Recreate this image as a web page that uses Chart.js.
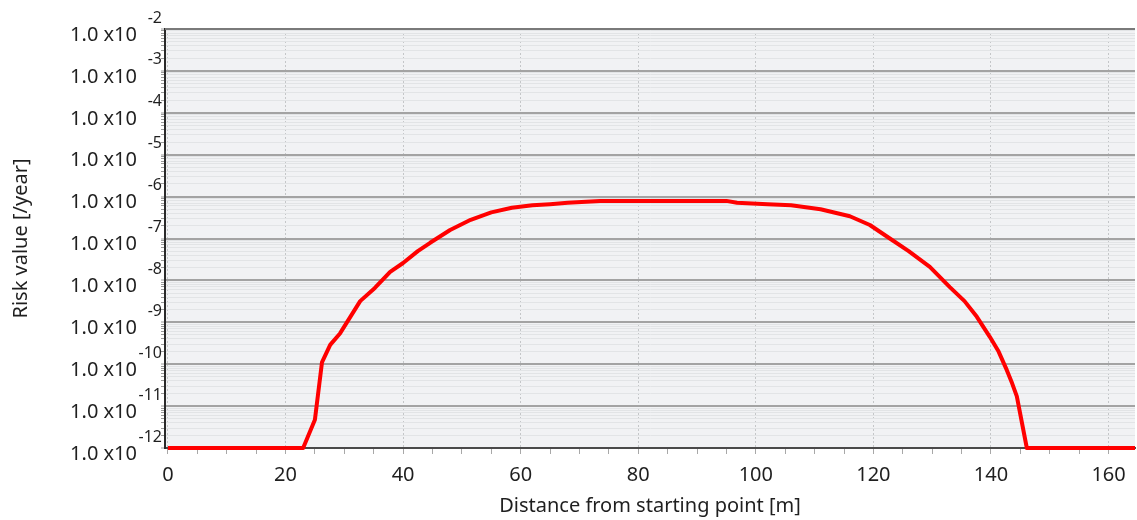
<!DOCTYPE html>
<html>
<head>
<meta charset="utf-8">
<script src="https://cdn.jsdelivr.net/npm/chart.js@4/dist/chart.umd.min.js"></script>
<style>
  html, body { margin: 0; padding: 0; background: #ffffff; }
  #wrap { width: 1137px; height: 520px; }
</style>
</head>
<body>
<div id="wrap"><canvas id="RiskChart" width="1137" height="520"></canvas></div>
<script>
(function () {
  "use strict";

  // Data
  const distances = [0, 23, 25, 26.2, 27.6, 29.3, 32.7, 35.2, 37.8, 40, 42.5, 44.6, 48, 51.5, 55, 58.5,
                     62, 65, 68, 73.5, 80, 85, 90, 95, 96.8, 102, 106, 111, 116, 119.4, 122.8, 126,
                     129.6, 133, 135.5, 137.6, 139.8, 141.3, 142.7, 143.6, 144.4, 146.1, 164.5];
  const riskValues = [1e-12, 1e-12, 4.7e-12, 1.1e-10, 2.9e-10, 5.5e-10, 3.2e-9, 6.6e-9, 1.6e-8, 2.6e-8, 5.0e-8, 7.9e-8, 1.6e-7, 2.8e-7, 4.2e-7, 5.4e-7,
                      6.2e-7, 6.6e-7, 7.1e-7, 7.9e-7, 7.9e-7, 7.9e-7, 7.9e-7, 7.9e-7, 7.1e-7, 6.6e-7, 6.2e-7, 5.0e-7, 3.4e-7, 2.1e-7, 1.0e-7, 5.0e-8,
                      2.1e-8, 6.9e-9, 3.2e-9, 1.35e-9, 4.5e-10, 2.0e-10, 7.2e-11, 3.5e-11, 1.7e-11, 1e-12, 1e-12];

  // Axis ticks
  const xLabels = [0, 20, 40, 60, 80, 100, 120, 140, 160];
  const xMinorStep = 5;
  const yExponents = [-12, -11, -10, -9, -8, -7, -6, -5, -4, -3, -2];
  const yMinorFactors = [2, 3, 4, 5, 6, 7, 8, 9];

  const text_dark = '#1f1f1f';
  const line_red = '#ff0000';
  const fontFamily = '"Noto Sans", "Open Sans", sans-serif';

  const points = distances.map(function (d, i) { return { x: d, y: riskValues[i] }; });

  function isMajor(v) {
    const e = Math.log10(v);
    return Math.abs(e - Math.round(e)) < 1e-6;
  }

  // plot background + top border + y labels like "1.0 x10^-n"
  const decorate = {
    id: 'decorate',
    beforeDraw: function (chart) {
      const a = chart.chartArea;
      const ctx = chart.ctx;
      ctx.save();
      ctx.fillStyle = '#f1f2f4';
      ctx.fillRect(a.left, a.top, a.right - a.left, a.bottom - a.top);
      ctx.restore();
    },
    afterDraw: function (chart) {
      const a = chart.chartArea;
      const ctx = chart.ctx;
      const yScale = chart.scales.y;
      ctx.save();
      ctx.strokeStyle = '#7a7a7a';
      ctx.lineWidth = 2;
      ctx.beginPath();
      ctx.moveTo(a.left, a.top);
      ctx.lineTo(a.right, a.top);
      ctx.stroke();

      ctx.fillStyle = text_dark;
      yExponents.forEach(function (e) {
        const py = yScale.getPixelForValue(Math.pow(10, e));
        ctx.font = '20px ' + fontFamily;
        ctx.textAlign = 'right';
        ctx.textBaseline = 'middle';
        ctx.fillText('1.0 x10', 137, py + 6);
        ctx.font = '16px ' + fontFamily;
        ctx.fillText(String(e), 162, py - 11);
      });
      ctx.restore();
    }
  };

  new Chart(document.getElementById('RiskChart').getContext('2d'), {
    type: 'line',
    data: {
      datasets: [{
        label: 'Risk value',
        data: points,
        borderColor: line_red,
        backgroundColor: line_red,
        borderWidth: 4,
        pointRadius: 0,
        tension: 0,
        borderJoinStyle: 'round',
        fill: false,
        clip: false
      }]
    },
    options: {
      responsive: false,
      animation: false,
      layout: {
        padding: { top: 29, right: 2, left: 0, bottom: 0 }
      },
      plugins: {
        legend: { display: false },
        tooltip: { enabled: false }
      },
      scales: {
        x: {
          type: 'linear',
          min: -0.5,
          max: 164.5,
          afterBuildTicks: function (scale) {
            const t = [];
            for (let v = xLabels[0]; v <= xLabels[xLabels.length - 1]; v += xMinorStep) t.push({ value: v });
            scale.ticks = t;
          },
          afterFit: function (scale) { scale.height = 72; },
          grid: {
            color: function (c) { return (c.tick && xLabels.indexOf(c.tick.value) >= 0) ? '#c4c6c8' : 'rgba(0,0,0,0)'; },
            lineWidth: 1,
            tickColor: '#a8a8a8',
            tickLength: 6,
            tickWidth: 1
          },
          border: { display: true, color: '#4a4a4a', width: 2, dash: [2, 2] },
          ticks: {
            autoSkip: false,
            maxRotation: 0,
            padding: 9,
            color: text_dark,
            font: { family: fontFamily, size: 20 },
            callback: function (v) { return xLabels.indexOf(v) >= 0 ? String(v) : ''; }
          },
          title: {
            display: true,
            text: 'Distance from starting point [m]',
            color: text_dark,
            font: { family: fontFamily, size: 20 },
            padding: { top: 0, bottom: 2 }
          }
        },
        y: {
          type: 'logarithmic',
          min: Math.pow(10, yExponents[0]),
          max: Math.pow(10, yExponents[yExponents.length - 1]),
          afterBuildTicks: function (scale) {
            const t = [];
            yExponents.forEach(function (e, i) {
              t.push({ value: Math.pow(10, e) });
              if (i < yExponents.length - 1) {
                yMinorFactors.forEach(function (f) { t.push({ value: f * Math.pow(10, e) }); });
              }
            });
            scale.ticks = t;
          },
          afterFit: function (scale) { scale.width = 165; },
          grid: {
            color: function (c) { return (c.tick && isMajor(c.tick.value)) ? '#a3a3a3' : '#e2e4e6'; },
            lineWidth: function (c) { return (c.tick && isMajor(c.tick.value)) ? 2 : 1; },
            tickColor: '#9a9a9a',
            tickLength: 4,
            tickWidth: 1
          },
          border: { display: true, color: '#2a2a2a', width: 2 },
          ticks: { display: false },
          title: {
            display: true,
            text: 'Risk value [/year]',
            color: text_dark,
            font: { family: fontFamily, size: 20 },
            padding: { top: 9, bottom: 0 }
          }
        }
      }
    },
    plugins: [decorate]
  });
})();
</script>
</body>
</html>
